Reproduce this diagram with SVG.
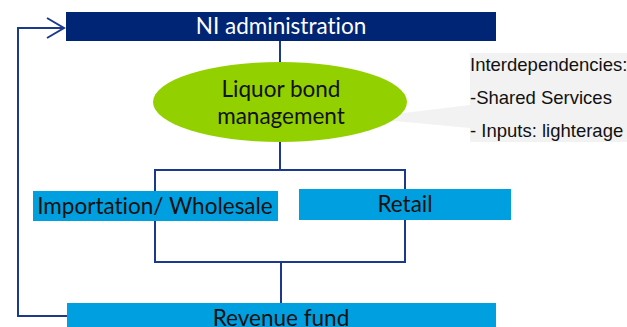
<svg xmlns="http://www.w3.org/2000/svg" width="627" height="327" viewBox="0 0 627 327">
<defs>
<style>
.conn{fill:none;stroke:#1B3A8C;stroke-width:2}
.box{fill:#009FDF}
.lbl{font-family:Lato,"Liberation Sans",sans-serif;font-size:22.5px;fill:#111;text-anchor:middle;font-variant-ligatures:none}
.call{font-family:"Liberation Sans",Arial,sans-serif;font-size:18.5px;fill:#111}
</style>
<marker id="open" markerWidth="20" markerHeight="22" refX="18" refY="11" orient="auto" markerUnits="userSpaceOnUse">
<path d="M1,1 L18,11 L1,21" fill="none" stroke="#1B3A8C" stroke-width="2"/>
</marker>
</defs>
<rect x="0" y="0" width="627" height="327" fill="#fff"/>
<g id="connectors">
<line class="conn" x1="280" y1="41" x2="280" y2="62"/>
<line class="conn" x1="280" y1="142" x2="280" y2="170"/>
<rect class="conn" x="155" y="170" width="250" height="92"/>
<line class="conn" x1="281" y1="262" x2="281" y2="303"/>
<path class="conn" d="M67,316 L18,316 L18,28 L64,28" marker-end="url(#open)"/>
</g>
<g id="ni-admin">
<rect x="66" y="12" width="430" height="29" fill="#002575"/>
<text x="281" y="34" class="lbl" style="fill:#fff">NI administration</text>
</g>
<g id="callout">
<path d="M470,53 H627 V142 H470 V128 L362,118 L470,105 Z" fill="#F2F2F2"/>
<text class="call" x="470" y="71">Interdependencies:</text>
<text class="call" x="470" y="104">-Shared Services</text>
<text class="call" x="470" y="137">- Inputs: lighterage</text>
</g>
<g id="liquor">
<ellipse cx="280" cy="102" rx="127" ry="40" fill="#92D000"/>
<text x="281" y="97" class="lbl">Liquor bond</text>
<text x="281" y="124" class="lbl">management</text>
</g>
<g id="importation">
<rect class="box" x="33" y="191" width="245" height="30"/>
<text x="155" y="214" class="lbl">Importation/ Wholesale</text>
</g>
<g id="retail">
<rect class="box" x="299" y="189" width="212" height="31"/>
<text x="405" y="212" class="lbl">Retail</text>
</g>
<g id="revenue">
<rect class="box" x="67" y="303" width="429" height="30"/>
<text x="281" y="326" class="lbl">Revenue fund</text>
</g>
</svg>
